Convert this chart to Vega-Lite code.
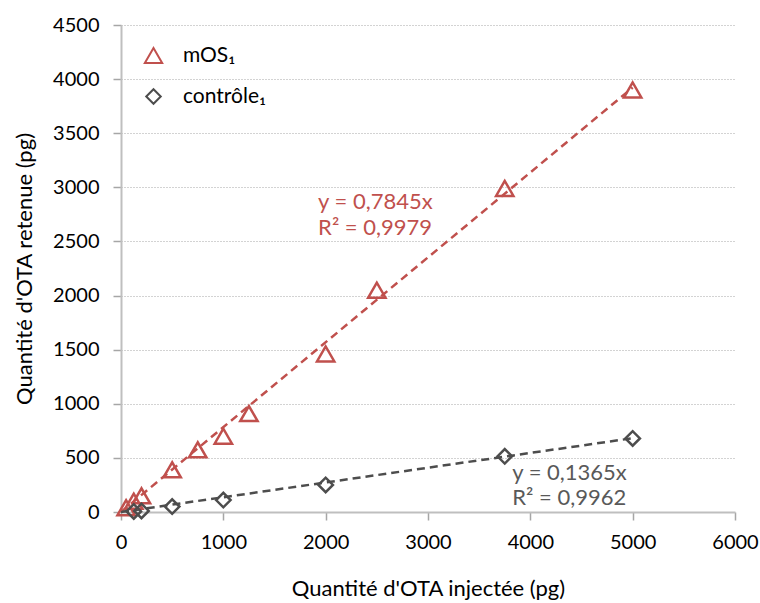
{
  "$schema": "https://vega.github.io/schema/vega-lite/v6.json",
  "autosize": {"type": "none"},
  "padding": {"left": 121, "top": 25, "right": 25, "bottom": 91},
  "width": 614,
  "height": 487,
  "config": {
    "font": "Lato",
    "view": {"stroke": null},
    "axis": {
      "labelFont": "Lato", "titleFont": "Lato",
      "labelFontSize": 20, "titleFontSize": 22, "titleFontWeight": "normal",
      "labelColor": "#000000", "titleColor": "#000000",
      "domainColor": "#BFBFBF", "domainWidth": 2,
      "tickColor": "#A6A6A6", "tickSize": 8, "tickWidth": 1.5,
      "labelFlush": false, "labelOverlap": false
    }
  },
  "datasets": {
    "pts": [
      {"injected": 50, "retained": 40, "series": "mOS₁"},
      {"injected": 125, "retained": 100, "series": "mOS₁"},
      {"injected": 200, "retained": 150, "series": "mOS₁"},
      {"injected": 500, "retained": 390, "series": "mOS₁"},
      {"injected": 750, "retained": 575, "series": "mOS₁"},
      {"injected": 1000, "retained": 700, "series": "mOS₁"},
      {"injected": 1250, "retained": 910, "series": "mOS₁"},
      {"injected": 2000, "retained": 1460, "series": "mOS₁"},
      {"injected": 2500, "retained": 2050, "series": "mOS₁"},
      {"injected": 3750, "retained": 2990, "series": "mOS₁"},
      {"injected": 5000, "retained": 3900, "series": "mOS₁"},
      {"injected": 125, "retained": 5, "series": "contrôle₁"},
      {"injected": 200, "retained": 10, "series": "contrôle₁"},
      {"injected": 500, "retained": 50, "series": "contrôle₁"},
      {"injected": 1000, "retained": 110, "series": "contrôle₁"},
      {"injected": 2000, "retained": 250, "series": "contrôle₁"},
      {"injected": 3750, "retained": 515, "series": "contrôle₁"},
      {"injected": 5000, "retained": 680, "series": "contrôle₁"}
    ],
    "fit": [
      {"injected": 0, "retained": 0, "series": "mOS₁"},
      {"injected": 5000, "retained": 3922, "series": "mOS₁"},
      {"injected": 0, "retained": 0, "series": "contrôle₁"},
      {"injected": 5000, "retained": 682, "series": "contrôle₁"}
    ],
    "labels": [
      {"injected": 1926, "retained": 2860, "text": "y = 0,7845x", "series": "mOS₁"},
      {"injected": 1926, "retained": 2620, "text": "R² = 0,9979", "series": "mOS₁"},
      {"injected": 3823, "retained": 360, "text": "y = 0,1365x", "series": "contrôle₁"},
      {"injected": 3823, "retained": 128, "text": "R² = 0,9962", "series": "contrôle₁"}
    ]
  },
  "encoding": {
    "x": {"field": "injected", "type": "quantitative",
      "scale": {"domain": [0, 6000], "nice": false},
      "axis": {"values": [0, 1000, 2000, 3000, 4000, 5000, 6000], "grid": false, "title": "Quantité d'OTA injectée (pg)", "titlePadding": 26, "labelPadding": 12, "format": "d"}},
    "y": {"field": "retained", "type": "quantitative",
      "scale": {"domain": [0, 4500], "nice": false},
      "axis": {"values": [0, 500, 1000, 1500, 2000, 2500, 3000, 3500, 4000, 4500], "grid": true, "gridDash": [1, 2], "gridColor": "#A6A6A6", "gridWidth": 1, "title": "Quantité d'OTA retenue (pg)", "titlePadding": 16, "labelPadding": 14, "format": "d"}}
  },
  "layer": [
    {
      "mark": {"type": "rule", "color": "#BFBFBF", "strokeWidth": 2},
      "encoding": {"x": {"datum": 6000}, "y": {"datum": 0}, "y2": {"datum": 4500}}
    },
    {
      "data": {"name": "fit"},
      "transform": [{"filter": "datum.series === 'mOS₁'"}],
      "mark": {"type": "line", "strokeDash": [8, 5], "strokeWidth": 2.5, "color": "#C0504D"},
      "encoding": {}
    },
    {
      "data": {"name": "fit"},
      "transform": [{"filter": "datum.series === 'contrôle₁'"}],
      "mark": {"type": "line", "strokeDash": [8, 5], "strokeWidth": 2.5, "color": "#4D4D4D"},
      "encoding": {}
    },
    {
      "data": {"name": "pts"},
      "mark": {"type": "point", "filled": false, "strokeWidth": 2.5, "opacity": 1},
      "encoding": {
        "color": {"field": "series", "type": "nominal", "scale": {"domain": ["mOS₁", "contrôle₁"], "range": ["#C0504D", "#4D4D4D"]},
          "legend": {"title": null, "orient": "none", "legendX": 22, "legendY": 20, "padding": 0, "labelFont": "Lato", "labelFontSize": 21, "labelColor": "#000000", "symbolSize": 220, "symbolStrokeWidth": 2, "rowPadding": 18, "labelOffset": 19, "symbolFillColor": "transparent"}},
        "shape": {"field": "series", "type": "nominal", "scale": {"domain": ["mOS₁", "contrôle₁"], "range": ["triangle-up", "diamond"]},
          "legend": {"title": null, "orient": "none", "legendX": 22, "legendY": 20, "padding": 0, "labelFont": "Lato", "labelFontSize": 21, "labelColor": "#000000", "symbolSize": 220, "symbolStrokeWidth": 2, "rowPadding": 18, "labelOffset": 19, "symbolFillColor": "transparent"}},
        "size": {"field": "series", "type": "nominal", "scale": {"domain": ["mOS₁", "contrôle₁"], "range": [300, 210]}, "legend": null}
      }
    },
    {
      "data": {"name": "labels"},
      "transform": [{"filter": "datum.series === 'mOS₁'"}],
      "mark": {"type": "text", "align": "left", "baseline": "middle", "fontSize": 22, "font": "Lato", "color": "#C0504D"},
      "encoding": {"text": {"field": "text"}}
    },
    {
      "data": {"name": "labels"},
      "transform": [{"filter": "datum.series === 'contrôle₁'"}],
      "mark": {"type": "text", "align": "left", "baseline": "middle", "fontSize": 22, "font": "Lato", "color": "#595959"},
      "encoding": {"text": {"field": "text"}}
    }
  ]
}
